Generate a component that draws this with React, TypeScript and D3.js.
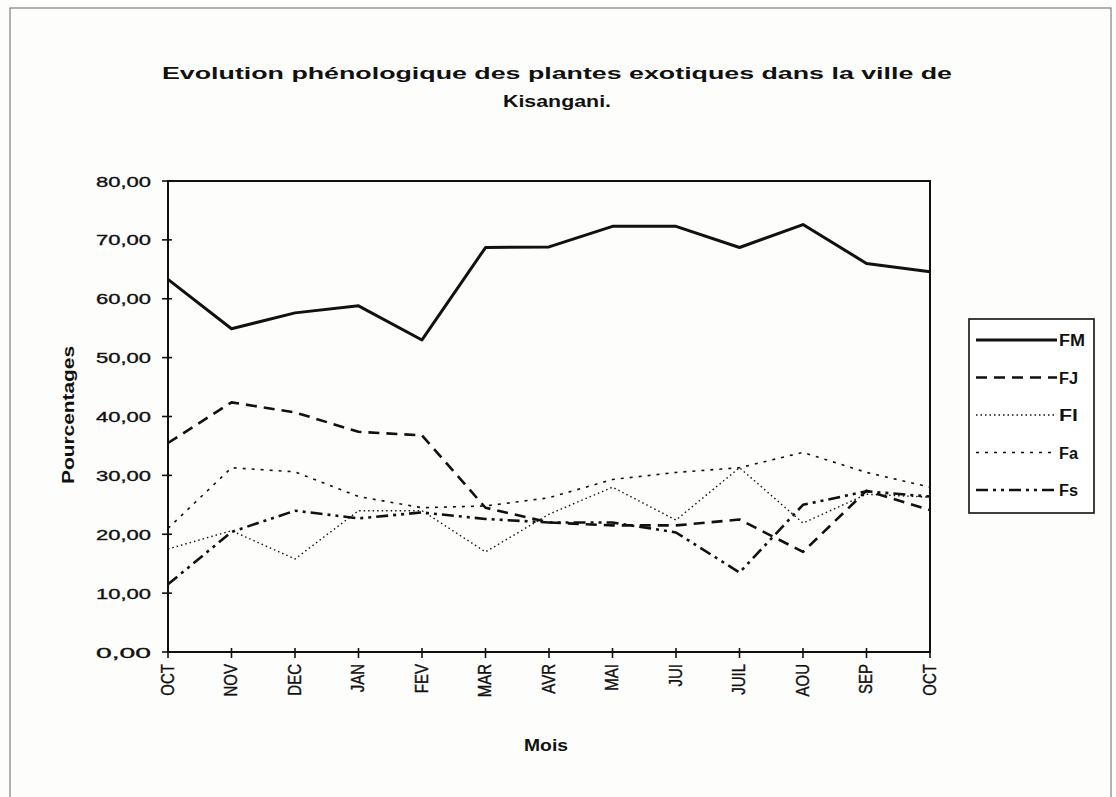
import * as d3 from 'd3';

const months = ['OCT', 'NOV', 'DEC', 'JAN', 'FEV', 'MAR', 'AVR', 'MAI', 'JUI', 'JUIL', 'AOU', 'SEP', 'OCT '];
const yTicks = [0, 10, 20, 30, 40, 50, 60, 70, 80];

const FM = [63.3, 54.9, 57.6, 58.8, 53.0, 68.7, 68.8, 72.3, 72.3, 68.7, 72.6, 66.0, 64.6];
const FJ = [35.5, 42.4, 40.7, 37.4, 36.8, 24.5, 22.0, 21.5, 21.5, 22.5, 17.0, 27.4, 24.1];
const Fl = [17.5, 20.6, 15.8, 24.0, 24.0, 17.0, 23.4, 28.0, 22.4, 31.3, 21.9, 26.8, 26.3];
const Fa = [21.0, 31.3, 30.6, 26.4, 24.5, 24.8, 26.2, 29.3, 30.5, 31.3, 33.9, 30.5, 28.0];
const Fs = [11.5, 20.4, 24.0, 22.7, 23.7, 22.6, 22.0, 22.0, 20.3, 13.5, 25.0, 27.3, 26.4];

const series = [
  { name: 'FM', values: FM, width: 3, dash: '' },
  { name: 'FJ', values: FJ, width: 2.6, dash: '11,7' },
  { name: 'Fl', values: Fl, width: 1.4, dash: '1.5,3' },
  { name: 'Fa', values: Fa, width: 1.6, dash: '3,6' },
  { name: 'Fs', values: Fs, width: 2.6, dash: '12,5,3,5,3,5' },
];

const W = 1116;
const H = 797;
const plot = { left: 168, right: 930, top: 181, bottom: 652 };
const font = '"Liberation Sans", Arial, sans-serif';
const ink = '#111';

export default function App() {
  // x by month index, y in percent
  const x = d3.scaleLinear().domain([0, months.length - 1]).range([plot.left, plot.right]);
  const y = d3.scaleLinear().domain([0, 80]).range([plot.bottom, plot.top]);

  const line = d3
    .line<number>()
    .x((_, i) => x(i))
    .y((d) => y(d));

  const legendX = 969;
  const legendY = 319;

  return (
    <svg
      width={W}
      height={H}
      style={{ position: 'absolute', left: 0, top: 0, background: '#fdfdfb' }}
      fontFamily={font}
    >
      {/* outer frame */}
      <rect x={10} y={8} width={1101} height={820} fill="none" stroke="#666" strokeWidth={1} />

      {/* title */}
      <text x={557} y={79} textAnchor="middle" fontSize={17} fontWeight="bold" fill={ink}
        textLength={790} lengthAdjust="spacingAndGlyphs">
        Evolution phénologique des plantes exotiques dans la ville de
      </text>
      <text x={557} y={107} textAnchor="middle" fontSize={17} fontWeight="bold" fill={ink}
        textLength={108} lengthAdjust="spacingAndGlyphs">
        Kisangani.
      </text>

      {/* plot frame */}
      <rect x={plot.left} y={plot.top} width={plot.right - plot.left} height={plot.bottom - plot.top}
        fill="none" stroke={ink} strokeWidth={2} />

      {/* y axis */}
      {yTicks.map((t) => (
        <g key={t}>
          <line x1={plot.left - 6} x2={plot.left + 4} y1={y(t)} y2={y(t)} stroke={ink} strokeWidth={1.6} />
          <text x={151} y={y(t) + 5.5} textAnchor="end" fontSize={15} fill={ink}
            stroke={ink} strokeWidth={0.35} textLength={55} lengthAdjust="spacingAndGlyphs">
            {d3.format('.2f')(t).replace('.', ',')}
          </text>
        </g>
      ))}

      {/* x axis */}
      {months.map((m, i) => (
        <g key={m + i}>
          <line x1={x(i)} x2={x(i)} y1={plot.bottom - 4} y2={plot.bottom + 6} stroke={ink} strokeWidth={1.6} />
          <text transform={`translate(${x(i) + 5.5},${plot.bottom + 12}) rotate(-90) scale(1,1.25)`}
            textAnchor="end" fontSize={15} fill={ink} stroke={ink} strokeWidth={0.3}>
            {m.trim()}
          </text>
        </g>
      ))}

      {/* axis titles */}
      <text x={546} y={751} textAnchor="middle" fontSize={16} fontWeight="bold" fill={ink}
        textLength={44} lengthAdjust="spacingAndGlyphs">
        Mois
      </text>
      <text transform={`translate(74,415) rotate(-90)`} textAnchor="middle" fontSize={16}
        fontWeight="bold" fill={ink} textLength={138} lengthAdjust="spacingAndGlyphs">
        Pourcentages
      </text>

      {/* series */}
      {series.map((s) => (
        <path key={s.name} d={line(s.values) ?? ''} fill="none" stroke={ink}
          strokeWidth={s.width} strokeDasharray={s.dash} strokeLinejoin="round" />
      ))}

      {/* legend */}
      <rect x={legendX} y={legendY} width={125} height={194} fill="#fff" stroke={ink} strokeWidth={1.6} />
      {series.map((s, i) => {
        const ly = 340 + i * 37.5;
        return (
          <g key={s.name}>
            <line x1={legendX + 7} x2={legendX + 88} y1={ly} y2={ly} stroke={ink}
              strokeWidth={s.width} strokeDasharray={s.dash} />
            <text x={legendX + 90} y={ly + 6} fontSize={16} fontWeight="bold" fill={ink}
              textLength={s.name === 'FM' ? 26 : 19} lengthAdjust="spacingAndGlyphs">
              {s.name}
            </text>
          </g>
        );
      })}
    </svg>
  );
}
